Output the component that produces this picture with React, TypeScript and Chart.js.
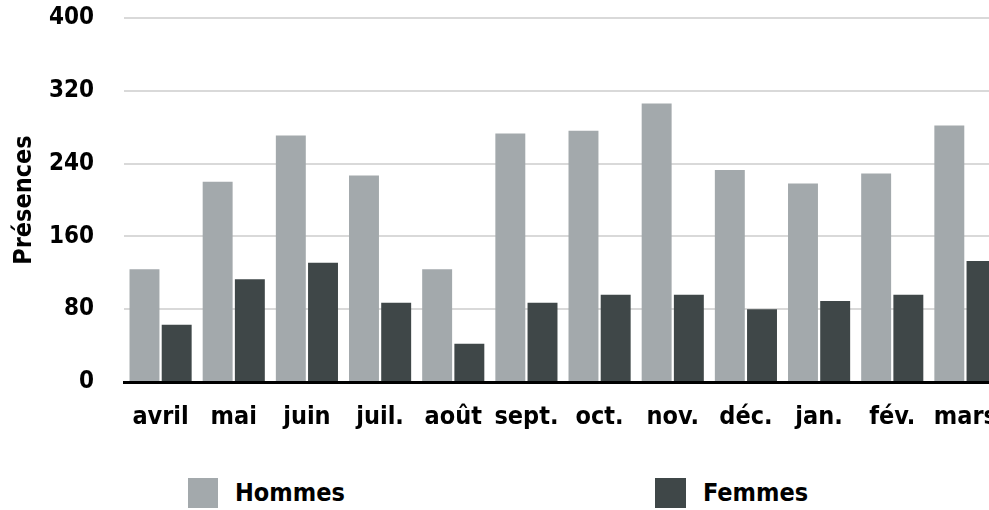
import React, { useEffect, useRef } from "react";
import { Chart, registerables } from "chart.js";

Chart.register(...registerables);

const categories = ["avril", "mai", "juin", "juil.", "août", "sept.", "oct.", "nov.", "déc.", "jan.", "fév.", "mars"];
const hommes = [124, 220, 271, 227, 124, 273, 276, 306, 233, 218, 229, 282];
const femmes = [63, 113, 131, 87, 42, 87, 96, 96, 80, 89, 96, 133];
const yTicks = [0, 80, 160, 240, 320, 400];

const FONT = "'DejaVu Sans Condensed', 'DejaVu Sans', sans-serif";
const HCOLOR = "#a3a9ac";
const FCOLOR = "#3f4748";

export default function App() {
  const ref = useRef<HTMLCanvasElement | null>(null);

  useEffect(() => {
    document.body.style.margin = "0";
    document.body.style.overflow = "hidden";
    if (!ref.current) return;
    const chart = new Chart(ref.current, {
      type: "bar",
      data: {
        labels: categories,
        datasets: [
          { label: "Hommes", data: hommes, backgroundColor: HCOLOR, categoryPercentage: 0.88, barPercentage: 0.93 },
          { label: "Femmes", data: femmes, backgroundColor: FCOLOR, categoryPercentage: 0.88, barPercentage: 0.93 },
        ],
      },
      options: {
        animation: false,
        responsive: false,
        maintainAspectRatio: false,
        devicePixelRatio: 1,
        layout: { padding: { left: 9, top: 4, right: 2, bottom: 0 } },
        plugins: { legend: { display: false }, tooltip: { enabled: false } },
        scales: {
          x: {
            afterFit: (axis: any) => {
              axis.height = 68;
              axis.paddingLeft = 0;
              axis.paddingRight = 0;
            },
            grid: { display: false, drawTicks: false },
            border: { display: true, color: "#000", width: 3 },
            ticks: { color: "#000", font: { family: FONT, size: 25, weight: "bold" }, padding: 20, maxRotation: 0, minRotation: 0, autoSkip: false },
          },
          y: {
            min: 0,
            max: 400,
            afterBuildTicks: (axis: any) => {
              axis.ticks = yTicks.map((v) => ({ value: v }));
            },
            afterFit: (axis: any) => {
              axis.width = 115;
              axis.paddingTop = 18;
              axis.paddingBottom = 0;
            },
            grid: { color: "#d9d9d9", lineWidth: 2, drawTicks: false },
            border: { display: false },
            ticks: { color: "#000", font: { family: FONT, size: 24, weight: "bold" }, padding: 30 },
            title: {
              display: true,
              text: "Présences",
              color: "#000",
              font: { family: FONT, size: 25, weight: "bold" },
              padding: { top: 0, bottom: 18 },
            },
          },
        },
      },
    });
    return () => chart.destroy();
  }, []);

  const legendText: React.CSSProperties = {
    position: "absolute",
    top: 478,
    height: 30,
    lineHeight: "30px",
    fontFamily: FONT,
    fontWeight: "bold",
    fontSize: 25,
    color: "#000",
  };

  return (
    <div style={{ position: "relative", width: 989, height: 510, overflow: "hidden", background: "#fff" }}>
      <canvas ref={ref} width={1004} height={450} style={{ position: "absolute", left: 0, top: 0 }} />
      <div style={{ position: "absolute", left: 188, top: 478, width: 30, height: 30, background: HCOLOR }} />
      <div style={{ ...legendText, left: 235 }}>Hommes</div>
      <div style={{ position: "absolute", left: 655, top: 478, width: 31, height: 30, background: FCOLOR }} />
      <div style={{ ...legendText, left: 703 }}>Femmes</div>
    </div>
  );
}
